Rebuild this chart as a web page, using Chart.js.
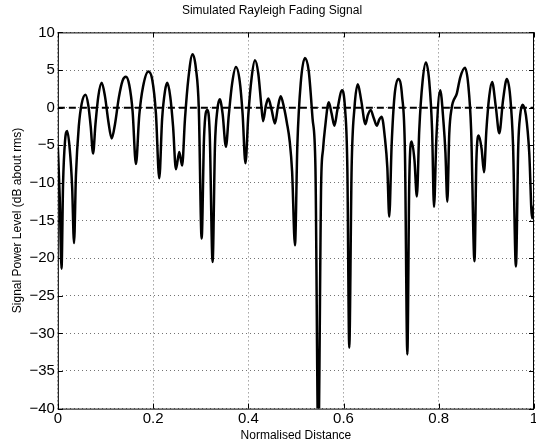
<!DOCTYPE html>
<html>
<head>
<meta charset="utf-8">
<script src="https://cdn.jsdelivr.net/npm/chart.js@4"></script>
<style>
  html, body { margin: 0; padding: 0; background: #fff; }
  #wrap { width: 536px; height: 445px; }
</style>
</head>
<body>
<div id="wrap"><canvas id="chartFading" width="536" height="445"></canvas></div>
<script>
// distance along the route (0..1) and signal level in dB about rms
const distance = [
  0.000, 0.004, 0.0077, 0.011, 0.015, 0.0196, 0.025, 0.030, 0.034, 0.038, 0.044, 0.050,
  0.058, 0.064, 0.069, 0.074, 0.079, 0.085, 0.092, 0.099, 0.106, 0.113, 0.120, 0.128,
  0.136, 0.143, 0.150, 0.157, 0.164, 0.171, 0.179, 0.190, 0.198, 0.206, 0.213, 0.219,
  0.225, 0.230, 0.236, 0.242, 0.248, 0.255, 0.261, 0.267, 0.274, 0.283, 0.290, 0.296,
  0.302, 0.307, 0.314, 0.319, 0.325, 0.330, 0.335, 0.340, 0.346, 0.353, 0.359, 0.366,
  0.374, 0.382, 0.388, 0.394, 0.400, 0.407, 0.414, 0.421, 0.427, 0.431, 0.437, 0.442,
  0.449, 0.456, 0.462, 0.468, 0.475, 0.481, 0.487, 0.492, 0.498, 0.503, 0.510, 0.519,
  0.527, 0.535, 0.541, 0.547, 0.553, 0.557, 0.561, 0.569, 0.575, 0.581, 0.587, 0.597,
  0.603, 0.608, 0.612, 0.617, 0.623, 0.630, 0.637, 0.646, 0.651, 0.657, 0.663, 0.670,
  0.675, 0.680, 0.687, 0.692, 0.696, 0.701, 0.707, 0.715, 0.723, 0.729, 0.734, 0.738,
  0.743, 0.749, 0.754, 0.759, 0.766, 0.773, 0.780, 0.786, 0.790, 0.795, 0.803, 0.810,
  0.814, 0.818, 0.822, 0.827, 0.838, 0.845, 0.855, 0.862, 0.868, 0.875, 0.879, 0.884,
  0.890, 0.895, 0.900, 0.906, 0.912, 0.920, 0.927, 0.935, 0.943, 0.950, 0.956, 0.962,
  0.967, 0.971, 0.976, 0.983, 0.990, 0.996, 1.000
];
const powerDb = [
  -5.2, -12, -21.4, -10, -4.5, -3.1, -5.5, -10.5, -18.0, -9, -2.5, 0.5,
  1.7, 0.3, -2.5, -6.1, -2.2, 1.5, 3.3, 1.5, -1.8, -4.1, -2.2, 1.3,
  3.6, 4.1, 3.0, -0.5, -7.5, -1, 2.8, 4.8, 3.8, -0.8, -9.4, -1.5,
  2.2, 3.3, 1.5, -2.5, -8.2, -5.9, -7.7, -1.5, 3.8, 7.1, 5.2, 0,
  -17.4, -4, -0.3, -3.5, -20.5, -5, -0.3, 1.1, -0.8, -5.2, -1, 3.2,
  5.4, 3.5, -0.8, -7.4, -1, 4, 6.3, 4.5, 0.5, -1.8, 0.3, 1.2,
  -0.3, -2.1, 0, 1.5, 0, -2, -4.5, -8.5, -18.3, -5, 3.2, 6.6,
  4.8, -1.5, -8, -45, -10, -5.5, -2.8, 0.7, -0.8, -2.4, -0.3, 2.3,
  0, -8, -31.9, -8, 0, 3.1, 1, -2.2, -1, -0.3, -1.3, -2.4,
  -1.6, -1.2, -4.1, -8, -14.5, -5, 1.5, 3.8, 1.5, -6, -32.8, -10,
  -4.5, -7, -11.8, -3, 3.5, 6.0, 3.5, -3, -13.2, -4, 2.3, -2,
  -6, -12.5, -3.5, -0.1, 1.9, 4, 5.3, 3, -3, -20.4, -7, -3.7,
  -5.5, -8.6, -3, 1.5, 3.4, 0, -3.4, 1, 3.8, 1.5, -5, -21.1,
  -5, -1, 0.4, -1, -6, -14.7, -13
];
// rms reference level
const rmsLine = [0, 0];
const rmsX = [0, 1];

const xTicks = [0, 0.2, 0.4, 0.6, 0.8, 1];
const yTicks = [-40, -35, -30, -25, -20, -15, -10, -5, 0, 5, 10];

const FONT = 'Liberation Sans, Arial, sans-serif';

function fmt(v) {
    const s = String(Math.round(v * 100) / 100);
    return s.replace('-', '\u2212');
}

// box round the axes plus inward ticks on all four sides, matlab style
const framePlugin = {
    id: 'frame',
    afterDraw(chart) {
        const { ctx, chartArea: a, scales } = chart;
        ctx.save();
        ctx.strokeStyle = '#000';
        ctx.lineWidth = 1;
        ctx.strokeRect(a.left + 0.5, a.top + 0.5, a.right - a.left - 1, a.bottom - a.top);
        ctx.beginPath();
        xTicks.forEach(v => {
            const px = Math.round(scales.x.getPixelForValue(v)) + 0.5;
            ctx.moveTo(px, a.bottom); ctx.lineTo(px, a.bottom - 5);
            ctx.moveTo(px, a.top); ctx.lineTo(px, a.top + 5);
        });
        yTicks.forEach(v => {
            const py = Math.round(scales.y.getPixelForValue(v)) + 0.5;
            ctx.moveTo(a.left, py); ctx.lineTo(a.left + 5, py);
            ctx.moveTo(a.right, py); ctx.lineTo(a.right - 5, py);
        });
        ctx.stroke();
        ctx.restore();
    }
};

const ctx = document.getElementById('chartFading').getContext('2d');
new Chart(ctx, {
    type: 'line',
    data: {
        datasets: [
            {
                label: 'Signal',
                data: distance.map((d, i) => ({ x: d, y: powerDb[i] })),
                borderColor: '#000',
                borderWidth: 2.5,
                pointRadius: 0,
                cubicInterpolationMode: 'monotone',
                fill: false
            },
            {
                label: 'rms',
                data: rmsX.map((d, i) => ({ x: d, y: rmsLine[i] })),
                borderColor: '#000',
                borderWidth: 2,
                borderDash: [7, 4],
                pointRadius: 0,
                fill: false
            }
        ]
    },
    options: {
        responsive: false,
        animation: false,
        devicePixelRatio: 1,
        layout: { padding: { left: 10, right: 2, top: 3, bottom: 2 } },
        plugins: {
            legend: { display: false },
            tooltip: { enabled: false },
            title: {
                display: true,
                text: 'Simulated Rayleigh Fading Signal',
                color: '#000',
                font: { family: FONT, size: 12, weight: 'normal' },
                padding: { top: 0, bottom: 15 }
            }
        },
        scales: {
            x: {
                type: 'linear',
                min: 0,
                max: 1,
                afterBuildTicks: s => { s.ticks = xTicks.map(v => ({ value: v })); },
                afterFit: s => { s.paddingRight = 0; },
                ticks: {
                    color: '#000',
                    font: { family: FONT, size: 15 },
                    padding: 1,
                    maxRotation: 0,
                    callback: v => fmt(v)
                },
                grid: { color: 'rgba(0,0,0,0.55)', drawTicks: false, lineWidth: 1 },
                border: { display: false, dash: [1, 3] },
                title: {
                    display: true,
                    text: 'Normalised Distance',
                    color: '#000',
                    font: { family: FONT, size: 12 },
                    padding: { top: 0, bottom: 0 }
                }
            },
            y: {
                min: -40,
                max: 10,
                afterBuildTicks: s => { s.ticks = yTicks.map(v => ({ value: v })); },
                ticks: {
                    color: '#000',
                    font: { family: FONT, size: 15 },
                    padding: 3,
                    callback: v => fmt(v)
                },
                grid: { color: 'rgba(0,0,0,0.55)', drawTicks: false, lineWidth: 1 },
                border: { display: false, dash: [1, 3] },
                title: {
                    display: true,
                    text: 'Signal Power Level (dB about rms)',
                    color: '#000',
                    font: { family: FONT, size: 12 },
                    padding: { top: 0, bottom: 2 }
                }
            }
        }
    },
    plugins: [framePlugin]
});
</script>
</body>
</html>
